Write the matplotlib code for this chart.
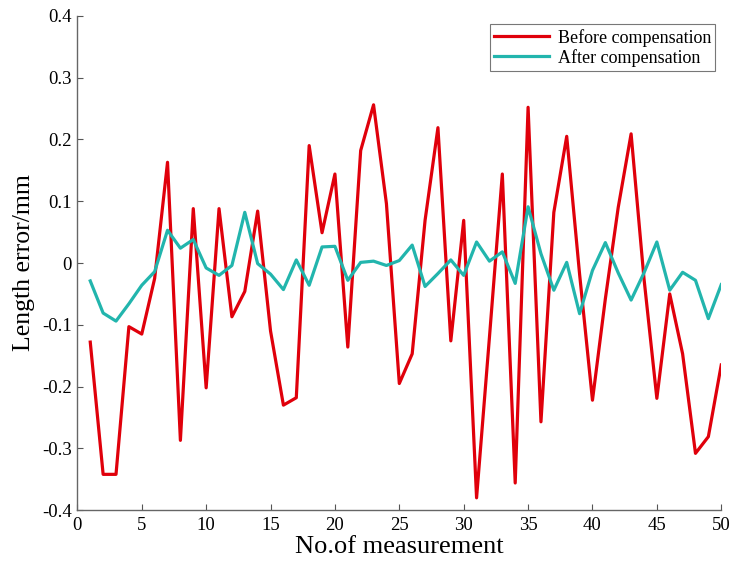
import matplotlib
matplotlib.use("Agg")
import matplotlib.pyplot as plt
import numpy as np


MEASUREMENT_NO = list(range(1, 51))

BEFORE = [
    -0.128, -0.342, -0.342, -0.103, -0.115, -0.025, 0.163, -0.287, 0.088, -0.202,
    0.088, -0.087, -0.046, 0.084, -0.110, -0.230, -0.218, 0.190, 0.049, 0.144,
    -0.136, 0.182, 0.256, 0.096, -0.195, -0.147, 0.069, 0.219, -0.126, 0.069,
    -0.380, -0.120, 0.144, -0.356, 0.252, -0.257, 0.082, 0.205, -0.018, -0.222,
    -0.058, 0.090, 0.209, -0.025, -0.219, -0.050, -0.147, -0.308, -0.281, -0.165,
]

AFTER = [
    -0.029, -0.081, -0.094, -0.066, -0.036, -0.014, 0.053, 0.024, 0.038, -0.008,
    -0.020, -0.004, 0.082, -0.001, -0.018, -0.043, 0.005, -0.036, 0.026, 0.027,
    -0.028, 0.001, 0.003, -0.004, 0.004, 0.029, -0.038, -0.017, 0.005, -0.020,
    0.034, 0.003, 0.018, -0.033, 0.091, 0.015, -0.044, 0.001, -0.082, -0.012,
    0.033, -0.016, -0.060, -0.016, 0.034, -0.044, -0.015, -0.028, -0.090, -0.035,
]

X_TICKS = list(range(0, 51, 5))
Y_TICKS = [-0.4, -0.3, -0.2, -0.1, 0, 0.1, 0.2, 0.3, 0.4]
Y_TICK_LABELS = ["-0.4", "-0.3", "-0.2", "-0.1", "0", "0.1", "0.2", "0.3", "0.4"]


def main():
    plt.rcParams["font.family"] = ["Liberation Serif", "DejaVu Serif"]

    fig = plt.figure(figsize=(7.3, 5.65), dpi=100)
    ax = fig.add_axes([0.106, 0.097, 0.882, 0.875])

    ax.plot(MEASUREMENT_NO, BEFORE, color="#e0000b", lw=2.3, label="Before compensation")
    ax.plot(MEASUREMENT_NO, AFTER, color="#22b5ad", lw=2.3, label="After compensation")

    ax.set_xlim(0, 50)
    ax.set_ylim(-0.4, 0.4)
    ax.set_xticks(X_TICKS)
    ax.set_yticks(Y_TICKS)
    ax.set_yticklabels(Y_TICK_LABELS)
    ax.tick_params(direction="in", length=4, width=0.8, colors="#555555",
                   labelcolor="black", labelsize=13.5)
    ax.tick_params(axis="x", pad=5)
    ax.tick_params(axis="y", pad=4)

    for side in ("top", "right"):
        ax.spines[side].set_visible(False)
    for side in ("left", "bottom"):
        ax.spines[side].set_color("#666666")
        ax.spines[side].set_linewidth(1.0)

    ax.set_xlabel("No.of measurement", fontsize=19, labelpad=1)
    ax.set_ylabel("Length error/mm", fontsize=18.5, labelpad=5)

    leg = ax.legend(loc="upper right", bbox_to_anchor=(0.991, 0.983), fontsize=13,
                    frameon=True, fancybox=False, edgecolor="#555555",
                    handlelength=3.0, borderpad=0.25, labelspacing=0.12,
                    handletextpad=0.5, borderaxespad=0.0)
    leg.get_frame().set_linewidth(0.8)

    fig.savefig("out.png", dpi=100)
    plt.close(fig)


if __name__ == "__main__":
    main()
